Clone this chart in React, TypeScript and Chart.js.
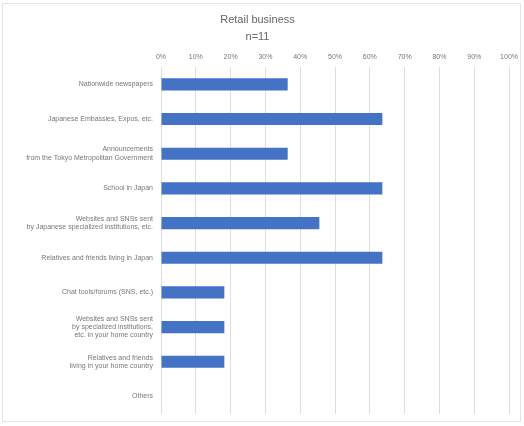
import React, { useEffect, useRef } from "react";
import { Chart, registerables } from "chart.js";

Chart.register(...registerables);

const categories: (string | string[])[] = [
  "Nationwide newspapers",
  "Japanese Embassies, Expos, etc.",
  ["Announcements", "from the Tokyo Metropolitan Government"],
  "School in Japan",
  ["Websites and SNSs sent", "by Japanese specialized institutions, etc."],
  "Relatives and friends living in Japan",
  "Chat tools/forums (SNS, etc.)",
  ["Websites and SNSs sent", "by specialized institutions,", "etc. in your home country"],
  ["Relatives and friends", "living in your home country"],
  "Others",
];

const shares: number[] = [0.364, 0.636, 0.364, 0.636, 0.455, 0.636, 0.182, 0.182, 0.182, 0];

const titleLines: string[] = ["Retail business", "n=11"];

export default function App() {
  const ref = useRef<HTMLCanvasElement | null>(null);

  useEffect(() => {
    if (!ref.current) return;
    const font = "'Liberation Sans', Arial, sans-serif";
    const chart = new Chart(ref.current, {
      type: "bar",
      data: {
        labels: categories,
        datasets: [
          {
            data: shares,
            backgroundColor: "#4472C4",
            borderWidth: 0,
            barPercentage: 0.35,
            categoryPercentage: 1,
          },
        ],
      },
      options: {
        indexAxis: "y",
        animation: false,
        responsive: false,
        maintainAspectRatio: false,
        layout: { padding: { left: 4, right: 13, top: 0, bottom: 10 } },
        plugins: {
          legend: { display: false },
          tooltip: { enabled: false },
          title: {
            display: true,
            text: titleLines,
            color: "#666666",
            font: { family: font, size: 11, weight: "normal", lineHeight: 1.5 },
            padding: { top: 12, bottom: 0 },
          },
        },
        scales: {
          x: {
            position: "top",
            min: 0,
            max: 1,
            ticks: {
              stepSize: 0.1,
              color: "#777777",
              font: { family: font, size: 7 },
              padding: 6,
              callback: (v: any) => Math.round(Number(v) * 100) + "%",
            },
            grid: { color: "#dedede", drawTicks: false },
            border: { display: false },
            afterFit: (s: any) => {
              s.height = 22;
            },
          },
          y: {
            ticks: {
              color: "#777777",
              font: { family: font, size: 7 },
              padding: 8,
              autoSkip: false,
            },
            grid: { display: false, drawTicks: false },
            border: { display: false },
            afterFit: (s: any) => {
              s.width = 157;
            },
          },
        },
      },
    });
    return () => chart.destroy();
  }, []);

  return (
    <div
      style={{
        position: "fixed",
        left: 0,
        top: 0,
        width: 524,
        height: 426,
        background: "#fff",
      }}
    >
      <div
        style={{
          position: "absolute",
          left: 2,
          top: 3,
          width: 519,
          height: 419,
          border: "1px solid #e4e4e4",
          boxSizing: "border-box",
        }}
      />
      <canvas ref={ref} width={524} height={426} style={{ position: "absolute", left: 0, top: 0 }} />
    </div>
  );
}
